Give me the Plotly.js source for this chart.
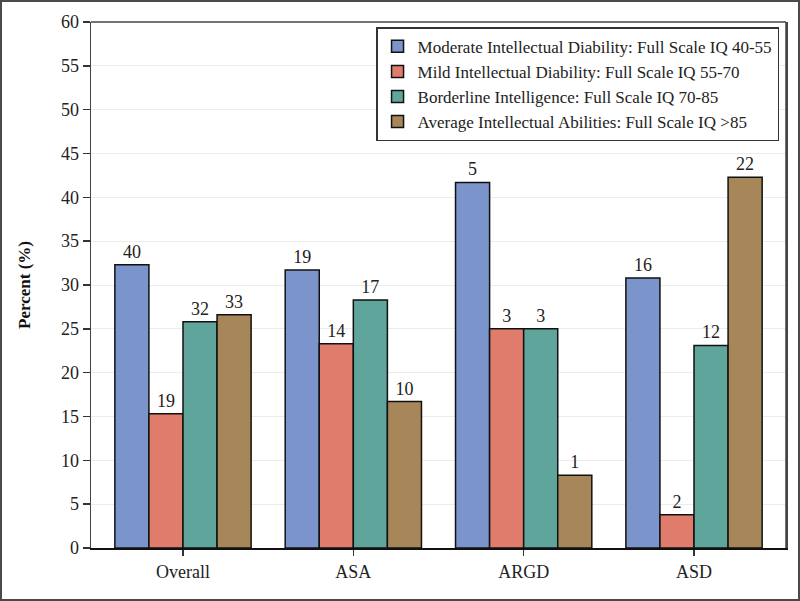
<!DOCTYPE html>
<html>
<head>
<meta charset="utf-8">
<script src="https://cdn.plot.ly/plotly-3.0.1.min.js"></script>
<style>
html,body{margin:0;padding:0;background:#fff;}
#chart{width:800px;height:601px;box-sizing:border-box;border:2px solid #4a4a4a;}
</style>
</head>
<body>
<div id="chart"></div>
<script>
const categories = ["Overall", "ASA", "ARGD", "ASD"];
const seriesNames = [
  "Moderate Intellectual Diability: Full Scale IQ 40-55",
  "Mild Intellectual Diability: Full Scale IQ 55-70",
  "Borderline Intelligence: Full Scale IQ 70-85",
  "Average Intellectual Abilities: Full Scale IQ >85"
];
const moderatePct = [32.3, 31.7, 41.7, 30.8];
const mildPct = [15.3, 23.3, 25.0, 3.8];
const borderlinePct = [25.8, 28.3, 25.0, 23.1];
const averagePct = [26.6, 16.7, 8.3, 42.3];
const moderateN = [40, 19, 5, 16];
const mildN = [19, 14, 3, 2];
const borderlineN = [32, 17, 3, 12];
const averageN = [33, 10, 1, 22];
const yTicks = [0, 5, 10, 15, 20, 25, 30, 35, 40, 45, 50, 55, 60];

const colors = ["#7b94cc", "#e07c6b", "#5fa59c", "#a7865a"];
const pcts = [moderatePct, mildPct, borderlinePct, averagePct];
const counts = [moderateN, mildN, borderlineN, averageN];
const font = "Liberation Serif, Times New Roman, serif";

const traces = seriesNames.map((name, i) => ({
  type: "bar",
  name: name,
  x: categories,
  y: pcts[i],
  text: counts[i].map(String),
  textposition: "outside",
  textfont: {family: font, size: 18, color: "#222"},
  cliponaxis: false,
  marker: {color: colors[i], line: {color: "#111", width: 1.5}},
  hoverinfo: "none"
}));

const layout = {
  width: 796, height: 597,
  margin: {l: 89, r: 12, t: 20, b: 51},
  paper_bgcolor: "#fff",
  plot_bgcolor: "#fff",
  barmode: "group",
  bargap: 0.2,
  bargroupgap: 0,
  font: {family: font, size: 18, color: "#222"},
  xaxis: {
    range: [-0.54, 3.54],
    showline: true, linecolor: "#111", linewidth: 2,
    mirror: false,
    ticks: "outside", ticklen: 6, tickwidth: 1.5, tickcolor: "#333",
    tickfont: {family: font, size: 18, color: "#222"},
    showgrid: false, zeroline: false, fixedrange: true
  },
  yaxis: {
    range: [0, 60],
    tickvals: yTicks,
    showline: true, linecolor: "#444", linewidth: 1.5,
    mirror: true,
    ticks: "outside", ticklen: 7, tickwidth: 1.5, tickcolor: "#333",
    tickfont: {family: font, size: 18, color: "#222"},
    showgrid: true, gridcolor: "#ececec", gridwidth: 1,
    zeroline: false, fixedrange: true,
    title: {text: "<b>Percent (%)</b>", font: {family: font, size: 17, color: "#111"}, standoff: 26}
  },
  shapes: [
    {type: "line", xref: "paper", yref: "paper", x0: 1, x1: 1, y0: 0, y1: 1, line: {color: "#444", width: 1.5}},
    {type: "line", xref: "paper", yref: "paper", x0: 0, x1: 1, y0: 1, y1: 1, line: {color: "#444", width: 1.5}}
  ],
  legend: {
    x: 0.99, xanchor: "right", y: 0.99, yanchor: "top",
    bgcolor: "#fff", bordercolor: "#333", borderwidth: 1.5,
    font: {family: font, size: 17, color: "#222"},
    tracegroupgap: 0, itemwidth: 30
  },
  showlegend: true
};

Plotly.newPlot("chart", traces, layout, {displayModeBar: false, staticPlot: true});
</script>
</body>
</html>
